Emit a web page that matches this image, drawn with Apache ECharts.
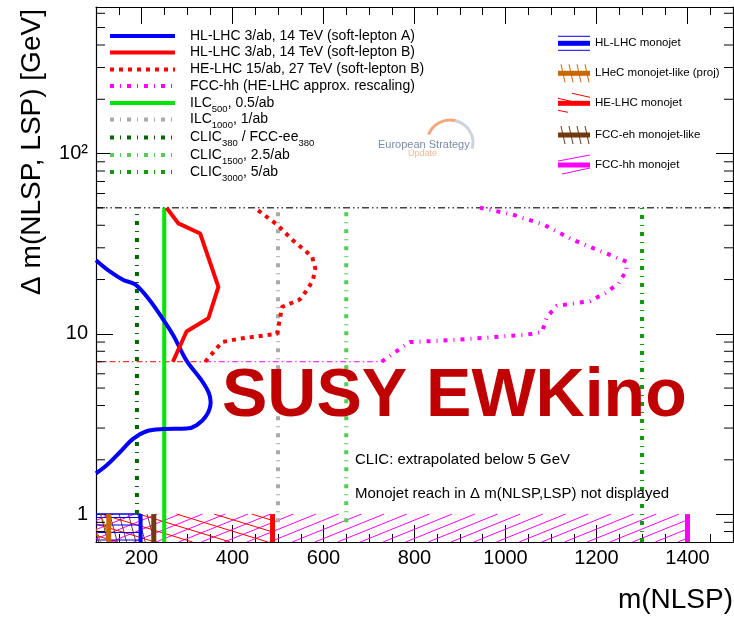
<!DOCTYPE html>
<html><head><meta charset="utf-8">
<script src="https://cdn.jsdelivr.net/npm/echarts@6/dist/echarts.min.js"></script>
<style>html,body{margin:0;padding:0;background:#fff}#c{width:734px;height:619px}</style>
</head><body><div id="c"></div>
<script>
// ---------------- data ----------------
const X_MIN = 100, X_MAX = 1500, Y_MIN = 0.7, Y_MAX = 650;
const yMinorTicks = [0.8, 0.9, 2, 3, 4, 5, 6, 7, 8, 9, 20, 30, 40, 50, 60, 70, 80, 90, 200, 300, 400, 500, 600];

// soft-lepton reach curves: [m(NLSP), Δm]
const hlLhcA = [[100,25.6],[131,22.1],[160,19.9],[186,18.8],[215,15.7],[244,12.4],[270,9.8],[299,7.1],[329,5.65],[347,4.76],[352,4.19],[343,3.53],[321,3.11],[299,2.98],[248,2.96],[211,2.88],[182,2.62],[153,2.21],[124,1.87],[100,1.68]];
const hlLhcB = [[269,7.0],[299,10.3],[347,12.2],[369,18.2],[329,36],[281,41],[255,50]];
const heLhcB = [[340,7.0],[377,9.0],[416,9.4],[498,10],[509,14.1],[548,15.5],[566,17.8],[577,20],[582,23],[575,26.8],[531,33.3],[498,40.3],[449,50]];
const fccHh  = [[728,7.0],[757,7.9],[790,9.0],[856,9.15],[955,9.5],[1047,9.9],[1080,10.2],[1091,12.4],[1113,14.3],[1186,15.2],[1219,16.8],[1248,19],[1266,22.4],[1266,25.1],[1222,27.9],[1149,33.1],[1083,40.4],[1014,46],[944,50]];

// lepton-collider reach (vertical lines): mass reach and Δm range
const eeNames = ['ILC500', 'ILC1000', 'CLIC380', 'CLIC1500', 'CLIC3000'];
const eeMass = [250, 500, 190, 650, 1300];
const eeDmLow = [0.7, 0.9, 1.0, 0.9, 0.7];
const eeDmHigh = [50, 50, 50, 50, 50];

// horizontal reference lines
const dmTopLine = [[100,50],[1500,50]];
const dmLowRed = [[100,7],[340,7]];
const dmLowMag = [[340,7],[728,7]];

// monojet reach (hatched, Δm ≤ 1)
const monojetNames = ['HL-LHC monojet', 'LHeC monojet-like (proj)', 'HE-LHC monojet', 'FCC-eh monojet-like', 'FCC-hh monojet'];
const monojetReach = [198, 128, 488, 227, 1400];
const monojetDmMax = 1;

// legend texts
const legendLeftLabels = [
  'HL-LHC 3/ab, 14 TeV (soft-lepton A)',
  'HL-LHC 3/ab, 14 TeV (soft-lepton B)',
  'HE-LHC 15/ab, 27 TeV (soft-lepton B)',
  'FCC-hh (HE-LHC approx. rescaling)',
  'ILC{s|500}, 0.5/ab',
  'ILC{s|1000}, 1/ab',
  'CLIC{s|380} / FCC-ee{s|380}',
  'CLIC{s|1500}, 2.5/ab',
  'CLIC{s|3000}, 5/ab'
];

// ---------------- styles ----------------
const FONT = 'Liberation Sans';
const C = {
  blue: '#0000ff', red: '#ff0000', mag: '#ff00ff', ilc500: '#00e600', ilc1000: '#aaaaaa',
  clic380: '#006600', clic1500: '#55cc55', clic3000: '#129912', orange: '#cc6600', brown: '#703a10'
};
const DOTDASH = [4, 6, 1, 6];
const eeStyles = [
  {color: C.ilc500, dash: 'solid'},
  {color: C.ilc1000, dash: DOTDASH},
  {color: C.clic380, dash: DOTDASH},
  {color: C.clic1500, dash: DOTDASH},
  {color: C.clic3000, dash: DOTDASH}
];
const hatchStyles = [
  {color: C.blue, angle: 0, gap: 7.5, edge: 4, z: 4, top: true},
  {color: C.orange, angle: -72, gap: 9, edge: 5, z: 5},
  {color: C.red, angle: -17, gap: 11, edge: 5, z: 2},
  {color: C.brown, angle: -75, gap: 9, edge: 5, z: 3},
  {color: C.mag, angle: 22, gap: 8.5, edge: 5, z: 1}
];

function clipSeg(x1, y1, x2, y2, r) {
  let t0 = 0, t1 = 1; const dx = x2 - x1, dy = y2 - y1;
  const p = [-dx, dx, -dy, dy], q = [x1 - r.x, r.x + r.w - x1, y1 - r.y, r.y + r.h - y1];
  for (let i = 0; i < 4; i++) {
    if (p[i] === 0) { if (q[i] < 0) return null; }
    else {
      const t = q[i] / p[i];
      if (p[i] < 0) { if (t > t1) return null; if (t > t0) t0 = t; }
      else { if (t < t0) return null; if (t < t1) t1 = t; }
    }
  }
  return [x1 + t0 * dx, y1 + t0 * dy, x1 + t1 * dx, y1 + t1 * dy];
}
function hatchLines(r, angleDeg, gap, color, width) {
  const a = angleDeg * Math.PI / 180;
  const d = [Math.cos(a), -Math.sin(a)], n = [Math.sin(a), Math.cos(a)];
  const cs = [[r.x, r.y], [r.x + r.w, r.y], [r.x, r.y + r.h], [r.x + r.w, r.y + r.h]].map(p => p[0] * n[0] + p[1] * n[1]);
  const cmin = Math.min(...cs), cmax = Math.max(...cs);
  const out = []; const L = 4000;
  for (let c = Math.ceil(cmin / gap) * gap; c <= cmax; c += gap) {
    const bx = c * n[0], by = c * n[1];
    const s = clipSeg(bx - L * d[0], by - L * d[1], bx + L * d[0], by + L * d[1], r);
    if (s) out.push({type: 'line', shape: {x1: s[0], y1: s[1], x2: s[2], y2: s[3]}, style: {stroke: color, lineWidth: width}});
  }
  return out;
}

function monojetSeries(k) {
  const st = hatchStyles[k];
  return {
    type: 'custom', name: monojetNames[k], z: st.z, silent: true, clip: true, animation: false,
    data: [[X_MIN, monojetReach[k], Y_MIN, monojetDmMax]],
    encode: {x: [0, 1], y: [2, 3]},
    renderItem: (params, api) => {
      const tl = api.coord([api.value(0), api.value(3)]);
      const br = api.coord([api.value(1), api.value(2)]);
      const r = {x: tl[0], y: tl[1], w: br[0] - tl[0], h: br[1] - tl[1]};
      const ch = hatchLines(r, st.angle, st.gap, st.color, 1);
      if (st.top) ch.push({type: 'line', shape: {x1: tl[0], y1: tl[1], x2: br[0], y2: tl[1]}, style: {stroke: st.color, lineWidth: 1.5}});
      ch.push({type: 'line', shape: {x1: br[0], y1: tl[1], x2: br[0], y2: br[1]}, style: {stroke: st.color, lineWidth: st.edge}});
      return {type: 'group', children: ch};
    }
  };
}
function lineSeries(name, data, color, width, dash, smooth, z) {
  return {
    type: 'line', name, data, showSymbol: false, symbol: 'none', smooth: smooth || false,
    lineStyle: {color, width, type: dash || 'solid', cap: 'butt'}, itemStyle: {color},
    silent: true, animation: false, z: z || 6
  };
}

const series = [];
[4, 2, 3, 0, 1].forEach(k => series.push(monojetSeries(k)));
series.push({
  type: 'custom', silent: true, animation: false, clip: false, z: 20,
  data: yMinorTicks.map(v => [X_MIN, v]),
  renderItem: (p, api) => {
    const v = api.value(1);
    const a = api.coord([X_MIN, v]), b = api.coord([X_MAX, v]);
    return {type: 'group', children: [
      {type: 'line', shape: {x1: a[0], y1: a[1], x2: a[0] + 9, y2: a[1]}, style: {stroke: '#000', lineWidth: 1}},
      {type: 'line', shape: {x1: b[0], y1: b[1], x2: b[0] - 9, y2: b[1]}, style: {stroke: '#000', lineWidth: 1}}
    ]};
  }
});
series.push(lineSeries('Δm = 50 GeV', dmTopLine, '#444444', 1.5, [7, 3, 1.5, 3, 1.5, 3], false, 6));
series.push(lineSeries('HL-LHC B low', dmLowRed, C.red, 1, [6, 3, 1.5, 3], false, 6));
series.push(lineSeries('FCC-hh low', dmLowMag, C.mag, 1, [6, 3, 1.5, 3], false, 6));
eeNames.forEach((nm, i) => {
  series.push(lineSeries(nm, [[eeMass[i], eeDmLow[i]], [eeMass[i], eeDmHigh[i]]], eeStyles[i].color, 4, eeStyles[i].dash, false, 7));
});
series.push(lineSeries('HL-LHC 3/ab, 14 TeV (soft-lepton A)', hlLhcA, C.blue, 4, 'solid', 0.35, 8));
series.push(lineSeries('HL-LHC 3/ab, 14 TeV (soft-lepton B)', hlLhcB, C.red, 4, 'solid', false, 8));
series.push(lineSeries('HE-LHC 15/ab, 27 TeV (soft-lepton B)', heLhcB, C.red, 4, [4, 5], false, 8));
series.push(lineSeries('FCC-hh (HE-LHC approx. rescaling)', fccHh, C.mag, 4, DOTDASH, false, 8));

// ---------------- graphics (legends, texts) ----------------
const graphics = [];
const leftStyles = [
  {color: C.blue, dash: null}, {color: C.red, dash: null}, {color: C.red, dash: [4, 5]}, {color: C.mag, dash: DOTDASH},
  {color: C.ilc500, dash: null}, {color: C.ilc1000, dash: DOTDASH}, {color: C.clic380, dash: DOTDASH},
  {color: C.clic1500, dash: DOTDASH}, {color: C.clic3000, dash: DOTDASH}
];
const leftY = [36, 52.5, 69.5, 86, 103, 119.5, 137.5, 155, 172];
legendLeftLabels.forEach((t, i) => {
  graphics.push({type: 'line', z: 50, shape: {x1: 110, y1: leftY[i], x2: 175, y2: leftY[i]},
    style: {stroke: leftStyles[i].color, lineWidth: 4, lineDash: leftStyles[i].dash, lineCap: 'butt'}});
  graphics.push({type: 'text', z: 50, x: 190, y: leftY[i], style: {
    text: '{n|' + t.replace(/\{s\|/g, '}{s|').replace(/\}([^{]|$)/g, (m, c) => '}{n|' + c) + '}',
    align: 'left', verticalAlign: 'middle', fill: '#000', fontFamily: FONT,
    rich: {n: {fontSize: 14, lineHeight: 22, fontFamily: FONT, fill: '#000'},
           s: {fontSize: 9.5, lineHeight: 10, verticalAlign: 'bottom', fontFamily: FONT, fill: '#000'}}
  }});
});

const rightY = [43.3, 73.3, 103.3, 135, 165];
const rIconColors = [C.blue, C.orange, C.red, C.brown, C.mag];
monojetNames.forEach((nm, i) => {
  const y = rightY[i], col = rIconColors[i];
  graphics.push({type: 'rect', z: 50, shape: {x: 558, y: y - 2.5, width: 32, height: 5}, style: {fill: col}});
  if (i === 0) {
    graphics.push({type: 'line', z: 50, shape: {x1: 558, y1: y - 7, x2: 590, y2: y - 7}, style: {stroke: col, lineWidth: 1}});
    graphics.push({type: 'line', z: 50, shape: {x1: 558, y1: y + 7, x2: 590, y2: y + 7}, style: {stroke: col, lineWidth: 1}});
  } else if (i === 1 || i === 3) {
    for (let k = 0; k < 4; k++) {
      const x0 = 561 + k * 8;
      graphics.push({type: 'line', z: 50, shape: {x1: x0, y1: y - 9, x2: x0 + 4, y2: y + 9}, style: {stroke: col, lineWidth: 1}});
    }
  } else if (i === 2) {
    graphics.push({type: 'line', z: 50, shape: {x1: 572, y1: y - 10, x2: 590, y2: y - 6}, style: {stroke: col, lineWidth: 1}});
    graphics.push({type: 'line', z: 50, shape: {x1: 558, y1: y - 5, x2: 584, y2: y + 1}, style: {stroke: col, lineWidth: 1}});
    graphics.push({type: 'line', z: 50, shape: {x1: 558, y1: y + 7, x2: 568, y2: y + 9}, style: {stroke: col, lineWidth: 1}});
  } else {
    graphics.push({type: 'line', z: 50, shape: {x1: 558, y1: y - 4, x2: 590, y2: y - 10}, style: {stroke: col, lineWidth: 1}});
    graphics.push({type: 'line', z: 50, shape: {x1: 562, y1: y + 9, x2: 590, y2: y + 3}, style: {stroke: col, lineWidth: 1}});
  }
  graphics.push({type: 'text', z: 50, x: 595, y: y, style: {text: nm, fontSize: 11.5, fontFamily: FONT, fill: '#000', align: 'left', verticalAlign: 'middle'}});
});

// European Strategy Update logo
graphics.push({type: 'arc', z: 40, shape: {cx: 450, cy: 143, r: 23, startAngle: Math.PI * 1.12, endAngle: Math.PI * 1.58, clockwise: true}, style: {stroke: '#f4a77c', lineWidth: 3, fill: null}});
graphics.push({type: 'arc', z: 40, shape: {cx: 450, cy: 143, r: 23, startAngle: Math.PI * 1.58, endAngle: Math.PI * 2.08, clockwise: true}, style: {stroke: '#cdd3de', lineWidth: 3, fill: null}});
graphics.push({type: 'text', z: 41, x: 378, y: 145, style: {text: 'European Strategy', fontSize: 11, fontFamily: FONT, fill: '#7a8cab', align: 'left', verticalAlign: 'middle'}});
graphics.push({type: 'text', z: 41, x: 408, y: 154, style: {text: 'Update', fontSize: 9, fontFamily: FONT, fill: '#f3b797', align: 'left', verticalAlign: 'middle'}});

// Big label and notes
graphics.push({type: 'text', z: 60, x: 222, y: 397, style: {text: 'SUSY EWKino', fontSize: 68, fontWeight: 'bold', fontFamily: FONT, fill: '#c00000', align: 'left', verticalAlign: 'middle'}});
graphics.push({type: 'text', z: 60, x: 355, y: 460, style: {text: 'CLIC: extrapolated below 5 GeV', fontSize: 15, fontFamily: FONT, fill: '#000', align: 'left', verticalAlign: 'middle'}});
graphics.push({type: 'text', z: 60, x: 355, y: 494, style: {text: 'Monojet reach in Δ m(NLSP,LSP) not displayed', fontSize: 15, fontFamily: FONT, fill: '#000', align: 'left', verticalAlign: 'middle'}});

// axis titles
graphics.push({type: 'text', z: 60, x: 32, y: 152, rotation: Math.PI / 2, style: {text: 'Δ m(NLSP, LSP) [GeV]', fontSize: 28, fontFamily: FONT, fill: '#000', align: 'center', verticalAlign: 'middle'}});
graphics.push({type: 'text', z: 60, x: 733, y: 600, style: {text: 'm(NLSP)', fontSize: 28, fontFamily: FONT, fill: '#000', align: 'right', verticalAlign: 'middle'}});

// ---------------- axes ----------------
const axisCommon = {min: X_MIN, max: X_MAX, splitLine: {show: false}};
const xAxis = [
  Object.assign({type: 'value', position: 'bottom', splitNumber: 7,
    axisLine: {show: true, onZero: false, lineStyle: {color: '#000', width: 1.2}},
    axisTick: {inside: true, length: 17, lineStyle: {color: '#000', width: 1}},
    axisLabel: {fontSize: 20, color: '#000', fontFamily: FONT, margin: 6,
      formatter: v => (v >= 200 && v <= 1400 && Math.abs(v % 200) < 1e-6) ? String(v) : ''}}, axisCommon),
  Object.assign({type: 'value', position: 'bottom', interval: 50,
    axisLine: {show: false, onZero: false}, axisTick: {inside: true, length: 8, lineStyle: {color: '#000', width: 1}},
    axisLabel: {show: false}}, axisCommon),
  Object.assign({type: 'value', position: 'top', splitNumber: 7,
    axisLine: {show: true, onZero: false, lineStyle: {color: '#000', width: 1.2}},
    axisTick: {inside: true, length: 17, lineStyle: {color: '#000', width: 1}},
    axisLabel: {show: false}}, axisCommon),
  Object.assign({type: 'value', position: 'top', interval: 50,
    axisLine: {show: false, onZero: false}, axisTick: {inside: true, length: 8, lineStyle: {color: '#000', width: 1}},
    axisLabel: {show: false}}, axisCommon)
];
const yAxis = [
  {type: 'log', logBase: 10, min: Y_MIN, max: Y_MAX, position: 'left', splitLine: {show: false},
    axisLine: {show: true, onZero: false, lineStyle: {color: '#000', width: 1.2}},
    axisTick: {inside: true, length: 17, lineStyle: {color: '#000', width: 1}},
    axisLabel: {fontSize: 20, color: '#000', fontFamily: FONT, margin: 8,
      formatter: v => { const l = Math.log10(v), r = Math.round(l); if (Math.abs(l - r) > 1e-6) return ''; if (r === 0) return '1'; if (r === 1) return '10'; return '10²'; }}},
  {type: 'log', logBase: 10, min: Y_MIN, max: Y_MAX, position: 'right', splitLine: {show: false},
    axisLine: {show: true, onZero: false, lineStyle: {color: '#000', width: 1.2}},
    axisTick: {inside: true, length: 17, lineStyle: {color: '#000', width: 1}},
    axisLabel: {show: false}}
];

const chart = echarts.init(document.getElementById('c'), null, {renderer: 'canvas'});
chart.setOption({
  animation: false,
  backgroundColor: '#fff',
  grid: {left: 96, right: 1, top: 7, bottom: 77, containLabel: false, outerBoundsMode: 'none'},
  xAxis, yAxis,
  series,
  graphic: graphics
});
</script></body></html>
